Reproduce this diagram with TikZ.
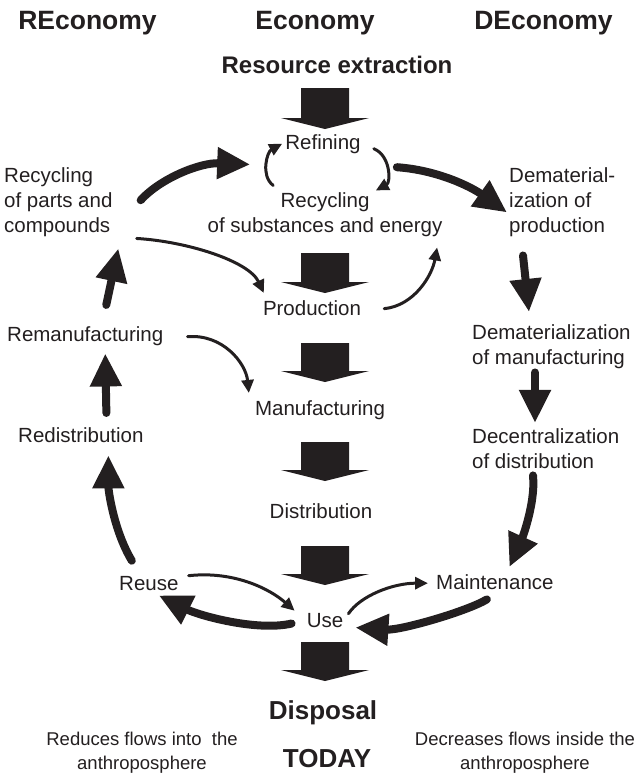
\documentclass[tikz,border=0pt]{standalone}
\usepackage{fontspec}
\setmainfont{Liberation Sans}
\usetikzlibrary{arrows.meta}
\definecolor{ink}{HTML}{231F20}

\begin{document}
\begin{tikzpicture}[x=1pt, y=-1pt, inner sep=0pt, color=ink,
    lbl/.style = {font=\fontsize{20.5}{25}\selectfont},
    head/.style = {font=\fontsize{26.5}{30}\selectfont\bfseries},
    note/.style = {font=\fontsize{18.5}{24}\selectfont, align=center},
    big/.style = {line width=8pt, line cap=round, -{Triangle[length=33pt,width=30pt]}},
    small/.style = {line width=3pt, line cap=round, -{Triangle[length=13pt,width=12pt]}}]
  \useasboundingbox (0,0) rectangle (638,774);
  % Headings
  \node[head, anchor=base] (reco) at (87.5,29) {REconomy};
  \node[head, anchor=base] (eco) at (315,29) {Economy};
  \node[head, anchor=base] (deco) at (543.5,29) {DEconomy};
  \node[head, font=\fontsize{24}{28}\selectfont\bfseries, anchor=base] (resource) at (337,73) {Resource extraction};
  % Economy column
  \node[lbl, anchor=base] (refining) at (323,149) {Refining};
  \node[lbl, anchor=base, align=center] (recsub) at (325,232) {Recycling\\of substances and energy};
  \node[lbl, anchor=base] (production) at (312,315) {Production};
  \node[lbl, anchor=base] (manufacturing) at (320,415) {Manufacturing};
  \node[lbl, anchor=base] (distribution) at (321,518) {Distribution};
  \node[lbl, anchor=base] (use) at (325,627) {Use};
  \node[head, font=\fontsize{26}{30}\selectfont\bfseries, anchor=base] (disposal) at (323,719) {Disposal};
  \node[head, font=\fontsize{26}{30}\selectfont\bfseries, anchor=base] (today) at (327,767) {TODAY};
  % REconomy column
  \node[lbl, anchor=base west, align=left] (rec) at (4,232) {Recycling\\of parts and\\compounds};
  \node[lbl, anchor=base west] (reman) at (7,341) {Remanufacturing};
  \node[lbl, anchor=base west] (redist) at (18,442) {Redistribution};
  \node[lbl, anchor=base west] (reuse) at (119,590) {Reuse};
  \node[note, anchor=base] (reduces) at (142,769) {Reduces flows into\ \ the\\anthroposphere};
  % DEconomy column
  \node[lbl, anchor=base west, align=left] (demprod) at (509,232) {Dematerial-\\ization of\\production};
  \node[lbl, anchor=base west, align=left] (demmanuf) at (472,364) {Dematerialization\\of manufacturing};
  \node[lbl, anchor=base west, align=left] (decentral) at (472,468) {Decentralization\\of distribution};
  \node[lbl, anchor=base west] (maint) at (436,589) {Maintenance};
  \node[note, anchor=base] (decreases) at (525,769) {Decreases flows inside the\\anthroposphere};
  % Main flow
  \foreach \t/\b in {88/129, 253/293, 343/382, 442/481, 546/585, 642/681}
    \fill (301,\t) -- (349,\t) -- (349,\b-11) -- (369,\b-11) -- (325,\b)
      -- (281,\b-11) -- (301,\b-11) -- cycle;
  % REconomy loop
  \draw[big] ([shift={(-15,3.5)}]use.west) .. controls +(-35,8) and +(40,20) .. ([shift={(10,5)}]reuse.south);
  \draw[big] ([shift={(-17,-15)}]reuse.north) .. controls +(-18,-30) and +(0,35) .. ([shift={(27.5,13)}]redist.south);
  \draw[big] ([shift={(25.5,-14)}]redist.north) -- ([shift={(20,8)}]reman.south);
  \draw[big] ([shift={(21,-21)}]reman.north) -- ([shift={(60,12)}]rec.south);
  \draw[big] ([shift={(28,-1.5)}]rec.east) .. controls +(20,-22) and +(-50,-2) .. ([shift={(-35,11)}]refining.south west);
  \draw[small] ([shift={(24,2)}]rec.south east) .. controls +(50,3) and +(-15,-32) .. ([shift={(1,-7)}]production.north west);
  \draw[small] ([shift={(24,1)}]reman.east) .. controls +(35,-3) and +(-3,-30) .. ([shift={(-6,-7)}]manufacturing.north west);
  \draw[small] ([shift={(10,0)}]reuse.north east) .. controls +(45,-5) and +(-25,-22) .. ([shift={(-12,-2)}]use.north west);
  % Recycling loop
  \draw[small] ([shift={(-12,32)}]refining.south west) .. controls +(-13,-10) and +(-15,8) .. ([shift={(-3,0)}]refining.west);
  \draw[small] ([shift={(13,5)}]refining.east) .. controls +(17,7) and +(15,-8) .. ([shift={(15,37)}]refining.south east);
  \draw[small] ([shift={(23,1)}]production.east) .. controls +(30,-3) and +(-5,28) .. ([shift={(-5.5,11)}]recsub.south east);
  % DEconomy chain
  \draw[big] ([shift={(36,23.5)}]refining.east) .. controls +(42,3) and +(-35,-25) .. ([shift={(-2,-24)}]demprod.south west);
  \draw[big] ([shift={(14,19)}]demprod.south west) -- ([shift={(57,-12)}]demmanuf.north west);
  \draw[big] ([shift={(63,4)}]demmanuf.south west) -- ([shift={(63,-5)}]decentral.north west);
  \draw[big] ([shift={(61,7)}]decentral.south west) .. controls +(3,30) and +(10,-22) .. ([shift={(14.5,-7)}]maint.north);
  \draw[big] ([shift={(-8,10)}]maint.south) .. controls +(-20,12) and +(45,3) .. ([shift={(12,7.5)}]use.east);
  \draw[small] ([shift={(5,1)}]use.north east) .. controls +(12,-18) and +(-35,0) .. ([shift={(-8,1.5)}]maint.west);
\end{tikzpicture}
\end{document}
